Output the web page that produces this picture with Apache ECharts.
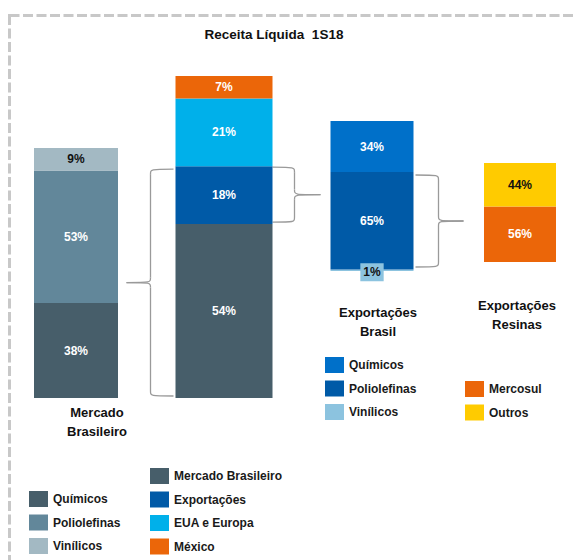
<!DOCTYPE html>
<html>
<head>
<meta charset="utf-8">
<script src="https://cdn.jsdelivr.net/npm/echarts@6/dist/echarts.min.js"></script>
<style>
  html, body { margin: 0; background: #fff; }
  #chart { width: 575px; height: 560px; }
</style>
</head>
<body>
<div id="chart"></div>
<script>
// data
const barNames = ['Mercado Brasileiro', 'Receita Líquida', 'Exportações Brasil', 'Exportações Resinas'];

// stacked bottom -> top
const mercadoLabels = ['Químicos', 'Poliolefinas', 'Vinílicos'];
const mercadoValues = [38, 53, 9];

const receitaLabels = ['Mercado Brasileiro', 'Exportações', 'EUA e Europa', 'México'];
const receitaValues = [54, 18, 21, 7];

const exportLabels = ['Vinílicos', 'Poliolefinas', 'Químicos'];
const exportValues = [1, 65, 34];

const resinasLabels = ['Mercosul', 'Outros'];
const resinasValues = [56, 44];

// legend order (top -> bottom)
const legendMercado = ['Químicos', 'Poliolefinas', 'Vinílicos'];
const legendReceita = ['Mercado Brasileiro', 'Exportações', 'EUA e Europa', 'México'];
const legendExport = ['Químicos', 'Poliolefinas', 'Vinílicos'];
const legendResinas = ['Mercosul', 'Outros'];

// styles / layout
const FONT = '"Liberation Sans", Arial, sans-serif';
const groups = [
  { labels: mercadoLabels, values: mercadoValues, colors: ['#475E6A', '#62879A', '#A3B9C3'], text: ['#fff', '#fff', '#111'] },
  { labels: receitaLabels, values: receitaValues, colors: ['#475E6A', '#005AA7', '#00B0EA', '#EB6609'], text: ['#fff', '#fff', '#fff', '#fff'] },
  { labels: exportLabels, values: exportValues, colors: ['#8CC3DF', '#005AA7', '#0070C9'], text: ['#111', '#fff', '#fff'] },
  { labels: resinasLabels, values: resinasValues, colors: ['#EB6609', '#FFCB00'], text: ['#fff', '#111'] }
];
// bar height (axis units = px), offset from baseline, bar width
const layout = [
  { total: 250, base: 0, width: 84 },
  { total: 322, base: 0, width: 97 },
  { total: 150, base: 127, width: 83 },
  { total: 99, base: 136, width: 72 }
];

const chart = echarts.init(document.getElementById('chart'), null, { renderer: 'svg' });

const series = [];
groups.forEach((g, k) => {
  const L = layout[k];
  const slot = v => barNames.map((_, i) => (i === k ? v : '-'));
  if (L.base) {
    series.push({
      name: 'base' + k, type: 'bar', xAxisIndex: k, stack: 'b' + k, barWidth: L.width,
      data: slot(L.base), itemStyle: { color: 'transparent' }, silent: true
    });
  }
  g.labels.forEach((lab, j) => {
    const tiny = g.values[j] < 3;
    series.push({
      name: lab + '|' + k,
      type: 'bar', xAxisIndex: k, stack: 'b' + k, barWidth: L.width,
      data: slot(g.values[j] * L.total / 100),
      itemStyle: { color: g.colors[j] },
      emphasis: { disabled: true },
      label: {
        show: true, position: 'inside',
        formatter: () => g.values[j] + '%',
        color: g.text[j], fontFamily: FONT, fontWeight: 'bold', fontSize: 12,
        backgroundColor: tiny ? g.colors[j] : 'transparent',
        padding: tiny ? [3, 3] : 0,
        offset: tiny ? [0, 2] : [0, 0]
      }
    });
  });
});

const legendBase = {
  orient: 'vertical', icon: 'rect', itemWidth: 19, itemHeight: 16, itemGap: 7.5, padding: 0,
  selectedMode: false,
  formatter: n => n.split('|')[0],
  textStyle: { fontFamily: FONT, fontSize: 12, fontWeight: 'bold', color: '#1a1a1a' }
};

chart.setOption({
  animation: false,
  grid: { left: 76, right: 55, top: 60, bottom: 162 },
  xAxis: barNames.map(() => ({ type: 'category', data: barNames, boundaryGap: false, show: false })),
  yAxis: { type: 'value', min: 0, max: 338, show: false },
  legend: [
    Object.assign({}, legendBase, { left: 29, top: 491, data: legendMercado.map(n => n + '|0') }),
    Object.assign({}, legendBase, { left: 150, top: 468, data: legendReceita.map(n => n + '|1') }),
    Object.assign({}, legendBase, { left: 325, top: 357, data: legendExport.map(n => n + '|2') }),
    Object.assign({}, legendBase, { left: 465, top: 381, data: legendResinas.map(n => n + '|3') })
  ],
  series
});

// pixel helpers from the chart's own axes
function px(k, v) {
  return chart.convertToPixel({ xAxisIndex: k, yAxisIndex: 0 }, [k, v]);
}
function segTop(k, j) {
  const L = layout[k];
  let s = L.base;
  for (let i = 0; i <= j; i++) s += groups[k].values[i] * L.total / 100;
  return px(k, s)[1];
}
function segBottom(k, j) {
  return j === 0 ? px(k, layout[k].base)[1] : segTop(k, j - 1);
}
function barEdge(k, side) {
  return px(k, 0)[0] + side * layout[k].width / 2;
}

const braceStyle = { stroke: '#9a9a9a', lineWidth: 1.3, fill: null };

// curly brace built from curves and lines
function brace(xEnd, xV, xTip, y1, y2) {
  const ym = (y1 + y2) / 2;
  const curve = (x1, y1_, x2, y2_, cx, cy) => ({
    type: 'bezierCurve', silent: true, style: braceStyle,
    shape: { x1: x1, y1: y1_, x2: x2, y2: y2_, cpx1: cx, cpy1: cy, cpx2: cx, cpy2: cy }
  });
  const line = (ya, yb) => ({
    type: 'line', silent: true, style: braceStyle,
    shape: { x1: xV, y1: ya, x2: xV, y2: yb }
  });
  return {
    type: 'group',
    children: [
      curve(xEnd, y1, xV, y1 + 5, xV, y1),
      line(y1 + 5, ym - 5),
      curve(xV, ym - 5, xTip, ym, xV, ym),
      curve(xTip, ym, xV, ym + 5, xV, ym),
      line(ym + 5, y2 - 5),
      curve(xV, y2 - 5, xEnd, y2, xV, y2)
    ]
  };
}

const b2L = barEdge(1, -1), b2R = barEdge(1, 1), b3R = barEdge(2, 1);

const textStyle = { fontFamily: FONT, fontWeight: 'bold', fontSize: 13, fill: '#111', align: 'center', lineHeight: 19 };

chart.setOption({
  graphic: [
    {
      type: 'rect', shape: { x: 9.5, y: 15.5, width: 620, height: 620 }, silent: true,
      style: { fill: null, stroke: '#c8c8c8', lineWidth: 3, lineDash: [10, 3.5] }
    },
    {
      type: 'text', x: 274, y: 25, silent: true,
      style: Object.assign({}, textStyle, { text: 'Receita Líquida  1S18', fontSize: 13.5 })
    },
    { type: 'text', x: 97, y: 403, silent: true, style: Object.assign({}, textStyle, { text: 'Mercado\nBrasileiro' }) },
    { type: 'text', x: 378, y: 303, silent: true, style: Object.assign({}, textStyle, { text: 'Exportações\nBrasil' }) },
    { type: 'text', x: 517, y: 296, silent: true, style: Object.assign({}, textStyle, { text: 'Exportações\nResinas' }) },
    brace(b2L - 2, b2L - 25, b2L - 49, segTop(1, 1) + 3, segBottom(1, 0) - 2),
    brace(b2R, b2R + 22, b2R + 48, segTop(1, 1) + 1, segBottom(1, 1) - 2),
    brace(b3R + 2, b3R + 25, b3R + 50, segTop(2, 1) + 3, segBottom(2, 0) - 4)
  ]
});
</script>
</body>
</html>
